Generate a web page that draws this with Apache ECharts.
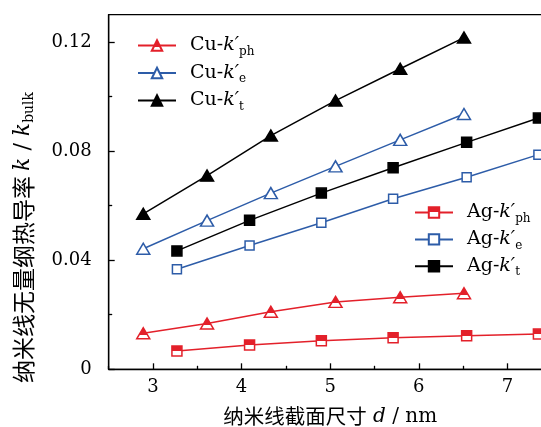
<!DOCTYPE html>
<html>
<head>
<meta charset="utf-8">
<script src="https://cdn.jsdelivr.net/npm/echarts@6/dist/echarts.min.js"></script>
<style>
  html, body { margin: 0; padding: 0; background: #fff; }
  #chart { width: 541px; height: 427px; }
</style>
</head>
<body>
<div id="chart"></div>
<script>
// 纳米线截面尺寸 d / nm
const cuD = [2.89, 3.61, 4.33, 5.06, 5.79, 6.51]
const agD = [3.27, 4.09, 4.9, 5.71, 6.54, 7.35]

// 无量纲热导率 k / k_bulk
const cuPh = [0.0132, 0.0168, 0.0211, 0.0247, 0.0264, 0.0279]
const cuE = [0.0442, 0.0545, 0.0646, 0.0744, 0.0841, 0.0936]
const cuT = [0.057, 0.071, 0.0857, 0.0985, 0.1102, 0.1216]
const agPh = [0.0067, 0.0089, 0.0105, 0.0116, 0.0123, 0.0129]
const agE = [0.0367, 0.0454, 0.0537, 0.0625, 0.0704, 0.0787]
const agT = [0.0434, 0.0546, 0.0646, 0.0739, 0.0832, 0.0921]

const xMajor = [3, 4, 5, 6, 7]
const xMinor = [2.5, 3.5, 4.5, 5.5, 6.5, 7.5]
const yMajor = [0, 0.04, 0.08, 0.12]
const yMinor = [0.02, 0.06, 0.1]

const RED = '#e3202a'
const BLUE = '#2d5ca8'
const BLACK = '#000'
const SERIF = '"DejaVu Serif", "Liberation Serif", serif'
const CJK = '"Noto Sans CJK SC", sans-serif'

const pairs = (xs, ys) => ys.map((v, i) => [xs[i], v])

// half filled marker (top part filled, bottom part white)
const halfFill = (stop) => ({
  type: 'linear', x: 0, y: 0, x2: 0, y2: 1,
  colorStops: [
    { offset: 0, color: RED }, { offset: stop, color: RED },
    { offset: stop, color: '#fff' }, { offset: 1, color: '#fff' }
  ]
})

const richText = {
  r: { fontFamily: SERIF, fontSize: 19, color: '#000', lineHeight: 24 },
  i: { fontFamily: SERIF, fontSize: 19, fontStyle: 'italic', color: '#000', lineHeight: 24 },
  s: { fontFamily: SERIF, fontSize: 12, color: '#000', lineHeight: 10, verticalAlign: 'bottom' }
}

const mkSeries = (name, xs, ys, color, symbol, size, fill) => ({
  name,
  type: 'line',
  data: pairs(xs, ys),
  symbol,
  symbolSize: size,
  showSymbol: true,
  lineStyle: { color, width: 1.5 },
  itemStyle: { color: fill, borderColor: color, borderWidth: 1.5 },
  emphasis: { disabled: true },
  z: 3
})

const series = [
  mkSeries('Cu-ph', cuD, cuPh, RED, 'triangle', [13, 11], halfFill(0.62)),
  mkSeries('Cu-e', cuD, cuE, BLUE, 'triangle', [13, 11], '#fff'),
  mkSeries('Cu-t', cuD, cuT, BLACK, 'triangle', [13, 11], BLACK),
  mkSeries('Ag-ph', agD, agPh, RED, 'rect', 10, halfFill(0.5)),
  mkSeries('Ag-e', agD, agE, BLUE, 'rect', 9, '#fff'),
  mkSeries('Ag-t', agD, agT, BLACK, 'rect', 10, BLACK)
]

const legendLabel = (name) => {
  const [el, sub] = name.split('-')
  return '{r|' + el + '-}{i|k′}{s|' + sub + '}'
}

const legendBase = {
  orient: 'vertical',
  padding: 0,
  itemWidth: 38,
  itemHeight: 13,
  selectedMode: false,
  formatter: legendLabel,
  textStyle: { padding: [0, 0, 0, 9], rich: richText }
}

const chart = echarts.init(document.getElementById('chart'), null, { renderer: 'canvas' })
chart.setOption({
  animation: false,
  backgroundColor: '#fff',
  grid: {
    left: 108.7, top: 14.7, bottom: 57.7, right: -10.7,
    outerBoundsMode: 'none', containLabel: false,
    show: true, borderColor: '#000', borderWidth: 1.3, backgroundColor: 'transparent'
  },
  legend: [
    Object.assign({}, legendBase, { left: 137, top: 36, itemGap: 6, data: ['Cu-ph', 'Cu-e', 'Cu-t'] }),
    Object.assign({}, legendBase, { left: 414, top: 203, itemGap: 5.4, data: ['Ag-ph', 'Ag-e', 'Ag-t'] })
  ],
  xAxis: [
    {
      type: 'value', min: 2.5, max: 7.5, position: 'bottom',
      name: '{c|纳米线截面尺寸}{i| d}{r| / nm}',
      nameLocation: 'middle', nameGap: 37,
      nameTextStyle: { rich: {
        c: { fontFamily: CJK, fontSize: 20.5, color: '#000' },
        i: { fontFamily: SERIF, fontSize: 20, fontStyle: 'italic', color: '#000' },
        r: { fontFamily: SERIF, fontSize: 20, color: '#000' }
      } },
      axisLine: { show: true, lineStyle: { color: '#000', width: 1.3 } },
      axisTick: { show: true, inside: true, length: 6, customValues: xMajor, lineStyle: { color: '#000', width: 1.3 } },
      axisLabel: { customValues: xMajor, margin: 9, fontFamily: SERIF, fontSize: 18, color: '#000' },
      splitLine: { show: false }
    },
    {
      type: 'value', min: 2.5, max: 7.5, position: 'bottom', offset: 0,
      axisLine: { show: false },
      axisTick: { show: true, inside: true, length: 3.5, customValues: xMinor, lineStyle: { color: '#000', width: 1.3 } },
      axisLabel: { show: false },
      splitLine: { show: false }
    }
  ],
  yAxis: [
    {
      type: 'value', min: 0, max: 0.13, position: 'left',
      name: '{c|纳米线无量纲热导率 }{i|k}{r| / }{i|k}{s|bulk}',
      nameLocation: 'middle', nameGap: 72, nameRotate: 90,
      nameTextStyle: { padding: [0, 91, 0, 0], rich: {
        c: { fontFamily: CJK, fontSize: 23, color: '#000', lineHeight: 27 },
        i: { fontFamily: SERIF, fontSize: 22, fontStyle: 'italic', color: '#000', lineHeight: 27 },
        r: { fontFamily: SERIF, fontSize: 22, color: '#000', lineHeight: 27 },
        s: { fontFamily: SERIF, fontSize: 14, color: '#000', lineHeight: 11, verticalAlign: 'bottom' }
      } },
      axisLine: { show: true, lineStyle: { color: '#000', width: 1.3 } },
      axisTick: { show: true, inside: true, length: 6, customValues: yMajor, lineStyle: { color: '#000', width: 1.3 } },
      axisLabel: {
        customValues: yMajor, margin: 17, fontFamily: SERIF, fontSize: 18, color: '#000',
        formatter: (v) => (v === 0 ? '0' : v.toFixed(2))
      },
      splitLine: { show: false }
    },
    {
      type: 'value', min: 0, max: 0.13, position: 'left', offset: 0,
      axisLine: { show: false },
      axisTick: { show: true, inside: true, length: 3.5, customValues: yMinor, lineStyle: { color: '#000', width: 1.3 } },
      axisLabel: { show: false },
      splitLine: { show: false }
    }
  ],
  series
})
</script>
</body>
</html>
